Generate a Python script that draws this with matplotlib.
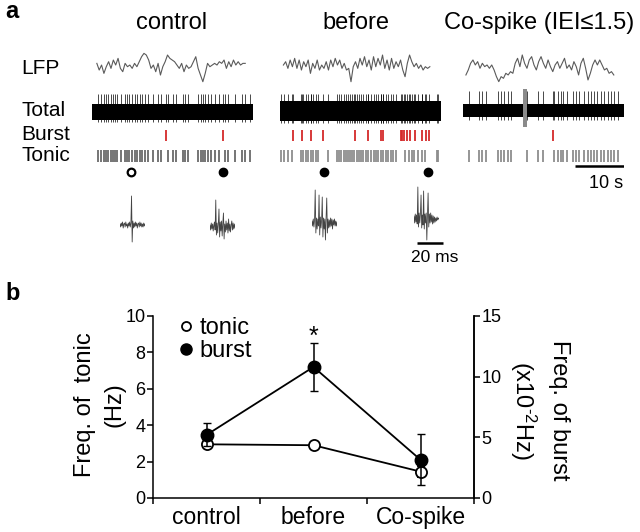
import numpy as np
import matplotlib
matplotlib.use('Agg')
import matplotlib.pyplot as plt
from matplotlib.lines import Line2D

plt.rcParams['font.family'] = ['Liberation Sans', 'DejaVu Sans']
plt.rcParams['mathtext.fontset'] = 'custom'
plt.rcParams['mathtext.rm'] = 'Liberation Sans'
plt.rcParams['mathtext.it'] = 'Liberation Sans:italic'

# ---------------- data: panel a ----------------
conditions = ['control', 'before', 'Co-spike (IEI\u22641.5)']
row_labels = ['LFP', 'Total', 'Burst', 'Tonic']

# LFP traces (arbitrary amplitude units, sampled across trace span)
lfp_control = [10, -10, 5, -20, 0, 15, -5, 20, 5, 25, -5, -15, 10, 0, 5, -5, 10, 0, 15, 30,
               40, 35, 20, -5, 5, -15, 10, -25, 0, 15, 35, 25, 20, 15, 5, -5, 10, -15, 5, -5,
               0, 15, 30, -5, -25, -45, -20, 10, 0, 5, 10, 5, 15, 10, 20, -5, 15, 0, 20, 5,
               15, 5, 10, 10]
lfp_before = [5, 15, -5, 20, 0, 25, -5, 20, -10, 15, 0, 20, -20, 10, -5, 20, -10, 5, -5, 15,
              -10, 20, 0, 25, 5, 20, -5, 10, -10, -5, -45, 0, 15, -5, 25, 5, 30, 0, 20, -10,
              30, 0, 25, 5, 35, -5, 20, -10, 25, -5, 15, 0, 20, -10, -30, 10, 35, 15, 0, 10,
              -5, 5, -10, 0, -5, 0]
lfp_cospike = [-20, -5, 15, 25, 10, 20, 0, 15, 5, 10, 0, 10, -5, -25, -40, -25, -30, -15, -20, -10,
               -15, 15, 30, 5, 40, 15, 0, 25, 35, 10, -5, 20, 35, 15, 0, 25, 5, -10, 10, 20,
               0, 15, 30, 0, 10, -5, 20, 5, -20, 15, 30, 0, -35, -15, 10, 25, 10, 25, 10, -5,
               0, -15, -10, -20]
lfp_span = [(1.0, 31.6), (0.7, 30.9), (0.6, 31.1)]

# spike times (s)
burst_control = [15.3, 27.0]
burst_before = [2.7, 4.6, 6.3, 8.9, 15.5, 18.1, 20.8, 21.3, 24.9, 25.2, 25.5, 26.1, 26.8,
                27.8, 29.2, 30.2, 30.7]
burst_cospike = [18.5]

tonic_control = [1.2, 1.9, 2.5, 2.9, 3.3, 3.9, 4.3, 4.7, 5.2, 6.0, 6.8, 7.2, 7.6, 8.2, 8.9,
                 9.3, 9.9, 10.3, 10.9, 11.5, 12.6, 13.6, 14.2, 15.7, 16.7, 17.3, 18.8, 19.2,
                 19.8, 21.9, 22.5, 22.9, 23.3, 23.9, 24.5, 25.4, 26.2, 27.4, 28.0, 29.5, 30.9,
                 31.5, 32.6]
tonic_before = [0.2, 0.9, 1.6, 2.4, 4.3, 4.8, 5.3, 5.8, 6.4, 6.9, 7.4, 7.9, 10.0, 11.7, 12.2,
                12.6, 13.1, 13.6, 14.0, 14.4, 14.9, 15.3, 15.8, 16.3, 16.7, 17.2, 17.7, 18.2,
                18.8, 19.3, 19.7, 20.3, 20.8, 21.3, 21.8, 22.3, 22.9, 23.4, 23.9, 25.8, 26.5,
                27.2, 27.7, 28.4, 29.2, 29.9, 32.3, 32.6]
tonic_cospike = [1.2, 3.3, 4.0, 4.7, 7.2, 7.8, 8.5, 9.2, 9.9, 13.3, 15.4, 16.4, 18.8, 19.5,
                 20.2, 20.7, 21.4, 22.7, 23.2, 23.9, 25.0, 25.7, 26.4, 27.0, 27.7, 28.4, 29.1,
                 29.8, 30.5, 31.1, 32.0]
cospike_artifact = (12.4, 13.2)

# selected events (s): (time, is_burst)
events_control = [(8.1, False), (27.0, True)]
events_before = [(9.1, True), (30.5, True)]

# example waveforms (20 ms each, arbitrary units)
wave_1 = [1, -2, 2, -1, 3, -3, 1, 2, -2, 3, -1, 1, -3, 2, -1, 3, -2, 2, 29, -17,
          4, -3, 2, -2, 3, -1, 2, -3, 1, 2, -2, 3, -1, 2, -2, 1, -2, 2, -1, 1]
wave_2 = [2, -3, 4, -2, 3, -4, 2, 5, -3, 27, -8, 4, -6, 3, 18, -10, 5, -4, 6, -9,
          4, 14, -12, 3, -5, 6, -3, 4, -6, 8, -4, 3, -5, 2, 6, -3, 4, -2, 3, -1]
wave_3 = [2, -3, 4, -4, 3, 33, -10, 5, -6, 4, -3, 28, -12, 6, -5, 3, 26, -14, 5, -6,
          4, -17, 6, 25, -10, 4, -5, 3, -4, 5, -3, 4, -6, 3, -2, 4, -3, 2, -3, 1]
wave_4 = [3, -4, 5, -3, 4, -5, 32, -8, 6, -4, 5, 24, -9, 4, -6, 28, -10, 5, -4, 6,
          -21, 4, 26, -8, 5, -4, 6, -3, 4, -5, 3, -4, 2, -3, 1, -2, 2, -1, 1, 0]

# ---------------- data: panel b ----------------
categories = ['control', 'before', 'Co-spike']
tonic_freq = [2.95, 2.9, 1.45]          # Hz
tonic_err = [0.2, 0.1, 0.3]
burst_freq = [5.2, 10.8, 3.15]          # x10^-2 Hz
burst_err = [0.95, 2.0, 2.1]

# ---------------- figure ----------------
W, H = 640, 532
fig = plt.figure(figsize=(W / 100, H / 100), dpi=100)


def px_axes(left, top, right, bottom):
    return fig.add_axes([left / W, 1 - bottom / H, (right - left) / W, (bottom - top) / H])


def ftext(x, y, s, **kw):
    return fig.text(x / W, 1 - y / H, s, **kw)


red = '#d42a2a'
ftext(5, 11, 'a', fontsize=17, fontweight='bold', va='center', ha='left')
ftext(5, 293, 'b', fontsize=17, fontweight='bold', va='center', ha='left')

title_x = [172, 356, 539]
for cx, name in zip(title_x, conditions):
    ftext(cx, 23, name, fontsize=17, ha='center', va='center')

for lab, y in zip(row_labels, [68, 110, 134, 156]):
    ftext(21, y, lab, fontsize=15, ha='left', va='center')

col_left = [92, 280, 463]
lfps = [lfp_control, lfp_before, lfp_cospike]
lfp_base = [66.7, 66.7, 68.3]
bursts = [burst_control, burst_before, burst_cospike]
tonics = [tonic_control, tonic_before, tonic_cospike]
tonic_col = ['#6a6a6a', '#8e8e8e', '#8e8e8e']
band = [(104, 120), (101, 121), (104, 117)]
spk = [(94, 122), (94, 123), (91, 120)]

col_axes = []
for i in range(3):
    ax = px_axes(col_left[i], 45, col_left[i] + 161, 190)
    ax.set_xlim(0, 33.2)
    ax.set_ylim(190, 45)
    ax.axis('off')
    col_axes.append(ax)
    v = np.array(lfps[i], dtype=float)
    t = np.linspace(lfp_span[i][0], lfp_span[i][1], len(v))
    ax.plot(t, lfp_base[i] - v / 3.0, color='#5a5a5a', lw=0.8)
    ax.fill_between([0, 33.2], band[i][0], band[i][1], color='k', lw=0)
    st = sorted(tonics[i] + bursts[i])
    ax.vlines(st, spk[i][0], spk[i][1], color='k', lw=0.5)
    ax.vlines(bursts[i], 130, 141, color=red, lw=1.3)
    ax.vlines(tonics[i], 150, 162, color=tonic_col[i], lw=1.3)

ax = col_axes[2]
ax.fill_between(list(cospike_artifact), 89, 127, color='#8a8a8a', lw=0)
ax.plot([23.1, 33.2], [166, 166], color='k', lw=1.8, solid_capstyle='butt')
ax.text(29.5, 183, '10 s', fontsize=13, ha='center', va='center')

for ax, evs in zip(col_axes[:2], [events_control, events_before]):
    for t, isb in evs:
        if isb:
            ax.plot([t], [172], 'o', ms=6, color='k', mec='k')
        else:
            ax.plot([t], [172], 'o', ms=5.5, mfc='white', mec='k', mew=1.6)

waves = [wave_1, wave_2, wave_3, wave_4]
wave_left = [120, 210, 312, 414]
wave_base = [225, 227, 223, 219]
for k in range(4):
    axw = px_axes(wave_left[k], wave_base[k] - 40, wave_left[k] + 25, wave_base[k] + 30)
    axw.set_xlim(0, 20)
    axw.set_ylim(-30, 40)
    axw.axis('off')
    v = np.array(waves[k], dtype=float)
    tt = np.linspace(0, 20, len(v))
    axw.plot(tt, v, color='#444444', lw=0.6)
    if k == 3:
        axw.plot([2.4, 23.2], [-24, -24], color='k', lw=1.8, clip_on=False,
                 solid_capstyle='butt')
        axw.text(16.8, -39, '20 ms', fontsize=12.5, ha='center', va='center', clip_on=False)

# ---------------- panel b ----------------
axb = px_axes(153, 316, 474, 498)
axb2 = axb.twinx()
x = np.arange(len(categories)) + 0.5

axb.errorbar(x, tonic_freq, yerr=tonic_err, fmt='-o', color='k', lw=1.3, ms=8,
             mfc='white', mec='k', mew=1.3, capsize=3, elinewidth=1.1, zorder=3)
axb2.errorbar(x, burst_freq, yerr=burst_err, fmt='-o', color='k', lw=1.3, ms=9,
              mfc='k', mec='k', capsize=3, elinewidth=1.1, zorder=3)

axb.set_xlim(0, 3)
axb.set_ylim(0, 10)
axb2.set_ylim(0, 15)
axb.set_yticks([0, 2, 4, 6, 8, 10])
axb2.set_yticks([0, 5, 10, 15])
axb.set_xticks([0, 1, 2, 3])
axb.set_xticklabels([])
axb.set_xticks(x, minor=True)
axb.set_xticklabels(categories, minor=True, fontsize=16.5)
axb.tick_params(axis='x', which='minor', length=0, pad=6)
for a in (axb, axb2):
    a.tick_params(axis='both', which='major', direction='out', length=4, width=1.1,
                  labelsize=13, pad=1.5)
    a.spines['top'].set_visible(False)
    for s in a.spines.values():
        s.set_linewidth(1.1)
axb2.spines['left'].set_visible(False)
axb2.spines['bottom'].set_visible(False)

axb2.text(x[1], 12.3, '*', fontsize=18, ha='center', va='bottom')

handles = [Line2D([], [], ls='none', marker='o', ms=6.5, mfc='white', mec='k', mew=1.3),
           Line2D([], [], ls='none', marker='o', ms=8, mfc='k', mec='k')]
axb.legend(handles, ['tonic', 'burst'], loc='upper left', bbox_to_anchor=(0.08, 0.995),
           frameon=False, fontsize=17, handlelength=0.6, handletextpad=0.3,
           labelspacing=0.05, borderaxespad=0, borderpad=0)

ftext(100, 405, 'Freq. of  tonic\n(Hz)', fontsize=17, rotation=90, ha='center',
      va='center', multialignment='center', linespacing=1.45)
ftext(539, 410, 'Freq. of burst\n(x10$^{\\text{-2}}$Hz)', fontsize=17, rotation=270,
      ha='center', va='center', multialignment='center', linespacing=1.45)

fig.savefig('out.png', dpi=100)
